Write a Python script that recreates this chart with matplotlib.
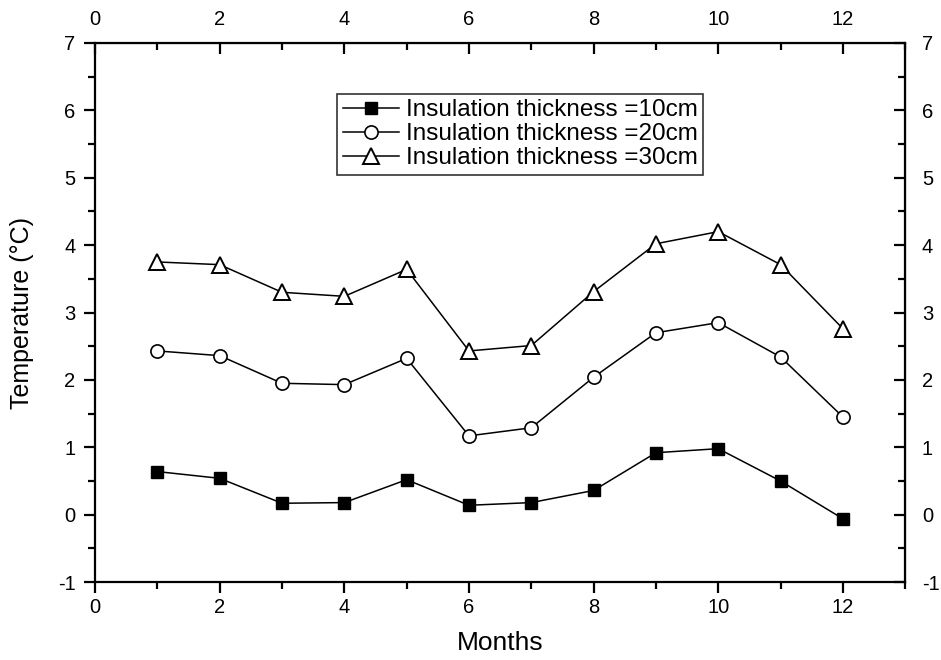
import numpy as np
import matplotlib
matplotlib.use("Agg")
import matplotlib.pyplot as plt
from matplotlib.ticker import MultipleLocator

months = [1, 2, 3, 4, 5, 6, 7, 8, 9, 10, 11, 12]
t_10cm = [0.64, 0.54, 0.17, 0.18, 0.52, 0.14, 0.18, 0.36, 0.92, 0.98, 0.50, -0.06]
t_20cm = [2.43, 2.36, 1.95, 1.93, 2.32, 1.17, 1.29, 2.04, 2.70, 2.85, 2.34, 1.45]
t_30cm = [3.75, 3.71, 3.30, 3.24, 3.64, 2.43, 2.51, 3.31, 4.02, 4.20, 3.71, 2.76]
labels = ["Insulation thickness =10cm",
          "Insulation thickness =20cm",
          "Insulation thickness =30cm"]


def main():
    plt.rcParams['font.family'] = ['Liberation Sans', 'DejaVu Sans']
    plt.rcParams['axes.unicode_minus'] = False
    fig = plt.figure(figsize=(9.41, 6.60), dpi=100)
    ax = fig.add_axes([0.101, 0.118, 0.861, 0.817])

    ax.plot(months, t_10cm, color='black', lw=1.1, marker='s', ms=9,
            mfc='black', mec='black', label=labels[0])
    ax.plot(months, t_20cm, color='black', lw=1.1, marker='o', ms=9.5,
            mfc='white', mec='black', mew=1.2, label=labels[1])
    ax.plot(months, t_30cm, color='black', lw=1.1, marker='^', ms=11,
            mfc='white', mec='black', mew=1.4, label=labels[2])

    ax.set_xlim(0, 13)
    ax.set_ylim(-1, 7)
    ax.xaxis.set_major_locator(MultipleLocator(2))
    ax.xaxis.set_minor_locator(MultipleLocator(1))
    ax.yaxis.set_major_locator(MultipleLocator(1))
    ax.yaxis.set_minor_locator(MultipleLocator(0.5))

    for s in ax.spines.values():
        s.set_linewidth(1.6)

    ax.tick_params(which='both', direction='out', width=1.6, labelsize=14.5)
    ax.tick_params(which='major', length=8)
    ax.tick_params(which='minor', length=5)
    ax.tick_params(axis='y', pad=6)

    # mirrored axes: top and right ticks point inward
    top = ax.secondary_xaxis('top')
    top.xaxis.set_major_locator(MultipleLocator(2))
    top.xaxis.set_minor_locator(MultipleLocator(1))
    top.tick_params(which='both', direction='in', width=1.6, labelsize=14.5)
    top.tick_params(which='major', length=8, pad=10)
    top.tick_params(which='minor', length=5)

    right = ax.secondary_yaxis('right')
    right.yaxis.set_major_locator(MultipleLocator(1))
    right.yaxis.set_minor_locator(MultipleLocator(0.5))
    right.tick_params(which='both', direction='in', width=1.6, labelsize=14.5)
    right.tick_params(which='major', length=8, pad=12)
    right.tick_params(which='minor', length=5)

    ax.set_xlabel('Months', fontsize=19, labelpad=10)
    ax.set_ylabel('Temperature (°C)', fontsize=18, labelpad=17)

    leg = ax.legend(loc='upper left', bbox_to_anchor=(0.299, 0.905),
                    fontsize=17.5, frameon=True, fancybox=False,
                    edgecolor='black', handlelength=2.3, handletextpad=0.3,
                    borderpad=0.22, labelspacing=0.08, borderaxespad=0)
    leg.get_frame().set_linewidth(1.2)

    fig.savefig('out.png', dpi=100)


if __name__ == "__main__":
    main()
